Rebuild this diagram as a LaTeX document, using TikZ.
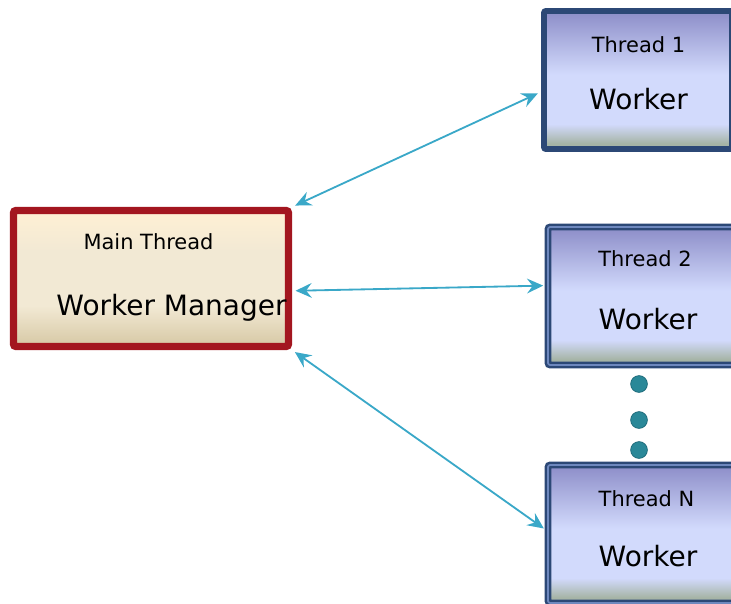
\documentclass[tikz,border=0pt]{standalone}
\usepackage{fontspec}
\setmainfont{DejaVu Sans}
\usetikzlibrary{arrows.meta}
\definecolor{mgr_red}{RGB}{163, 22, 31}
\definecolor{mgr_top}{RGB}{255, 240, 212}
\definecolor{mgr_mid}{RGB}{242, 233, 212}
\definecolor{mgr_bot}{RGB}{214, 200, 164}
\definecolor{wk_edge}{RGB}{44, 72, 118}
\definecolor{wk_ring}{RGB}{110, 136, 190}
\definecolor{wk_top}{RGB}{140, 141, 200}
\definecolor{wk_light}{RGB}{210, 218, 252}
\definecolor{wk_band}{RGB}{166, 180, 166}
\definecolor{link_blue}{RGB}{58, 168, 200}
\definecolor{gap_teal}{RGB}{42, 136, 152}
\definecolor{gap_dark}{RGB}{28, 104, 120}
\pgfdeclareverticalshading{mgrfill}{100bp}{color(0bp)=(mgr_bot); color(25bp)=(mgr_bot);
  color(40bp)=(mgr_mid); color(60bp)=(mgr_mid); color(75bp)=(mgr_top); color(100bp)=(mgr_top)}
\pgfdeclareverticalshading{wkfill}{100bp}{color(0bp)=(wk_band); color(27bp)=(wk_band);
  color(34bp)=(wk_light); color(52bp)=(wk_light); color(75bp)=(wk_top); color(100bp)=(wk_top)}
\tikzstyle{mgr}=[rectangle,rounded corners=1.5pt,draw=mgr_red,line width=5pt,
  shade,shading=mgrfill,minimum width=6.875cm,minimum height=3.4cm]
\tikzstyle{wk}=[rectangle,rounded corners=1.5pt,draw=wk_edge,line width=4.25pt,
  shade,shading=wkfill,minimum width=4.7cm,minimum height=3.45cm]
\tikzstyle{wkd}=[wk,line width=1.8pt,double=wk_ring,double distance=1.2pt,minimum width=4.9cm]
\tikzstyle{lbl}=[font=\fontsize{14.9}{18}\selectfont,inner sep=0pt,anchor=base]
\tikzstyle{wlbl}=[font=\fontsize{19.9}{24}\selectfont,inner sep=0pt,anchor=base]
\tikzstyle{gap}=[circle,fill=gap_teal,draw=gap_dark,line width=0.5pt,inner sep=0pt,minimum size=0.42cm]
\tikzstyle{link}=[{Stealth[length=11.5pt,width=10.5pt,inset=4pt]}-{Stealth[length=11.5pt,width=10.5pt,inset=4pt]},
  draw=link_blue,line width=1.3pt,shorten <=2.5pt,shorten >=2.5pt]
\begin{document}
\begin{tikzpicture}
    \useasboundingbox (0, 0) rectangle (18.275, -15.1);
    \clip (0, 0) rectangle (18.275, -15.1);
            \node [style=mgr] (0) at (3.775, -6.9625) {};
            \node [style=wk] (1) at (15.95, -2) {};
            \node [style=wkd] (2) at (16.15, -7.4) {};
            \node [style=wkd] (3) at (16.15, -13.35) {};
            \node [style=lbl] (4) at (3.7125, -6.225) {Main Thread};
            \node [style=wlbl] (5) at (4.2875, -7.875) {Worker Manager};
            \node [style=lbl] (6) at (15.9625, -1.325) {Thread 1};
            \node [style=wlbl] (7) at (15.9625, -2.725) {Worker};
            \node [style=lbl] (8) at (16.125, -6.667) {Thread 2};
            \node [style=wlbl] (9) at (16.2, -8.233) {Worker};
            \node [style=lbl] (10) at (16.1625, -12.65) {Thread N};
            \node [style=wlbl] (11) at (16.2, -14.167) {Worker};
            \node [style=gap] (12) at (15.975, -9.6) {};
            \node [style=gap] (13) at (15.975, -10.5) {};
            \node [style=gap] (14) at (15.975, -11.25) {};
            \draw [style=link] (0.north east) to (1.187);
            \draw [style=link] (0.355) to (2.174);
            \draw [style=link] (0.south east) to (3.178);
\end{tikzpicture}
\end{document}
